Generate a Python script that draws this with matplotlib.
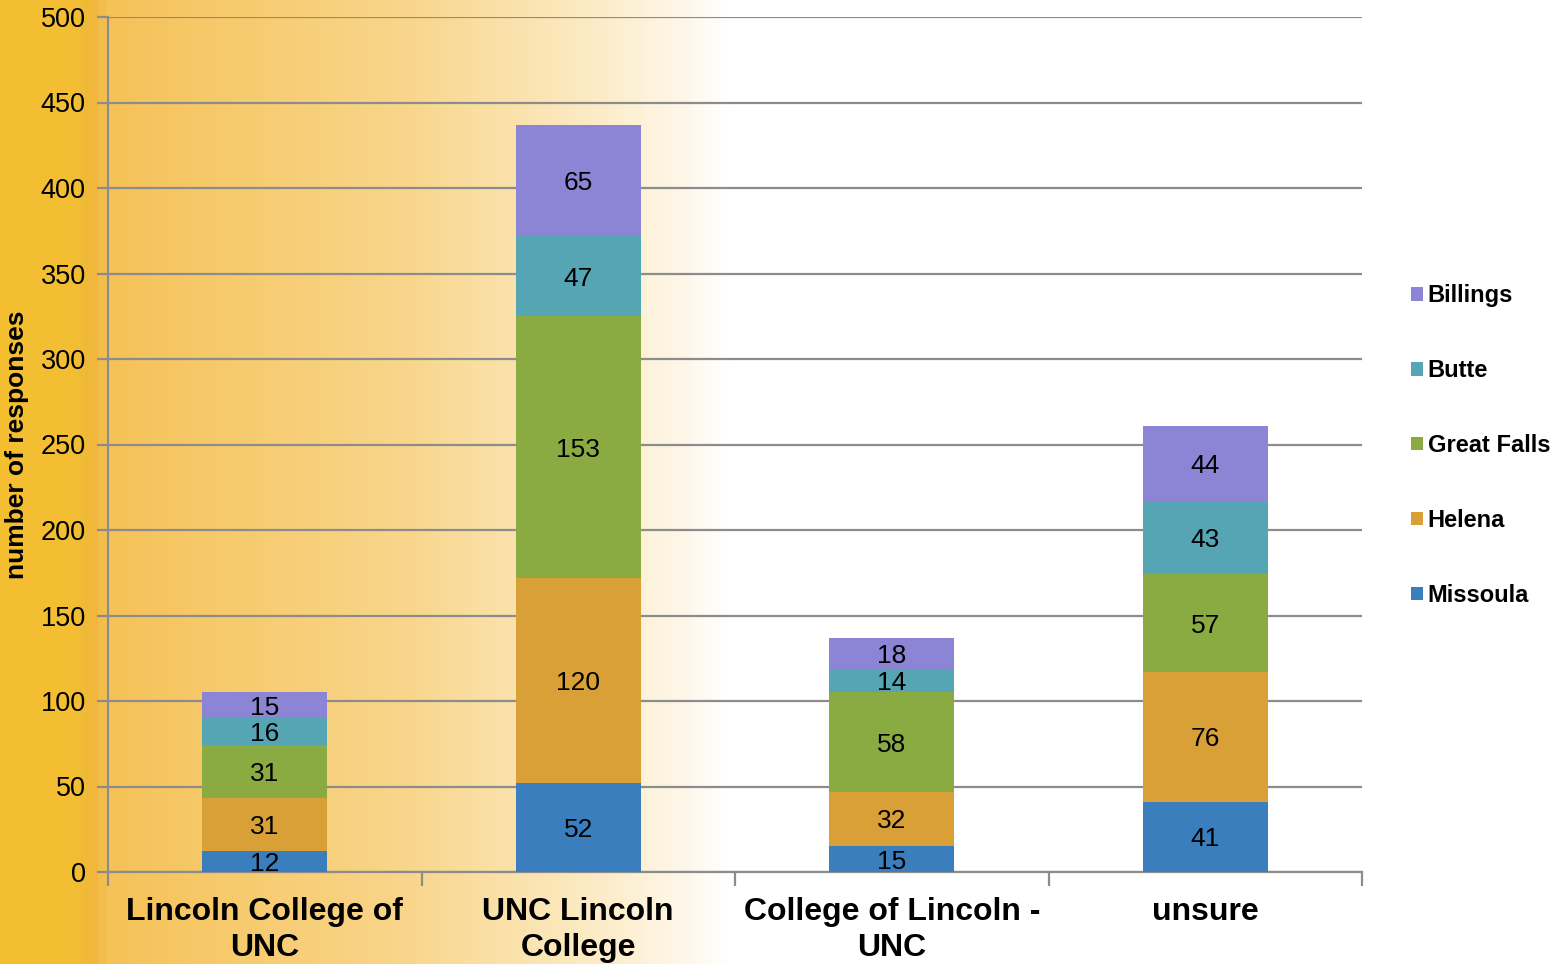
import numpy as np
import matplotlib
matplotlib.use("Agg")
import matplotlib.pyplot as plt
from matplotlib.colors import LinearSegmentedColormap

# ---- data ----
categories = ["Lincoln College of\nUNC", "UNC Lincoln\nCollege", "College of Lincoln -\nUNC", "unsure"]
series = ["Missoula", "Helena", "Great Falls", "Butte", "Billings"]
missoula = [12, 52, 15, 41]
helena = [31, 120, 32, 76]
great_falls = [31, 153, 58, 57]
butte = [16, 47, 14, 43]
billings = [15, 65, 18, 44]
colors = ["#3A7EBD", "#D8A036", "#8AAA42", "#56A5B5", "#8C84D4"]

W, H = 1566, 964
fig = plt.figure(figsize=(W / 100, H / 100), dpi=100)

# background gradient (yellow on the left fading to white)
bg = fig.add_axes([0, 0, 1, 1], zorder=-10)
bg.axis("off")
stops = [(0.0, "#F3BE30"), (0.045, "#F3BF33"), (0.058, "#F0B63A"), (0.066, "#F5C257"),
         (0.26, "#F9D68C"), (0.38, "#FCEBC6"), (0.44, "#FEF8EC"), (0.465, "#FFFFFF"), (1.0, "#FFFFFF")]
cmap = LinearSegmentedColormap.from_list("bgfade", stops)
bg.imshow(np.linspace(0, 1, 800)[None, :], aspect="auto", cmap=cmap, extent=[0, 1, 0, 1])
bg.set_xlim(0, 1); bg.set_ylim(0, 1)

ax = fig.add_axes([108 / W, 1 - 872 / H, (1362 - 108) / W, (872 - 17) / H])
ax.patch.set_alpha(0)

x = np.arange(len(categories))
data = [missoula, helena, great_falls, butte, billings]
bottom = np.zeros(len(categories))
bars = []
for name, vals, c in zip(series, data, colors):
    b = ax.bar(x, vals, width=0.4, bottom=bottom, color=c, label=name, zorder=3)
    bars.append(b)
    for xi, v, bt in zip(x, vals, bottom):
        ax.text(xi, bt + v / 2, str(v), ha="center", va="center_baseline", fontsize=19,
                family="Liberation Sans", zorder=4)
    bottom += np.array(vals)

ax.set_xlim(-0.5, 3.5)
ax.set_ylim(0, 500)
ax.set_yticks(range(0, 501, 50))
ax.yaxis.grid(True, color="#8C8C8C", linewidth=1.6, zorder=1)
ax.set_axisbelow(True)
for s in ["top", "right"]:
    ax.spines[s].set_visible(False)
for s in ["left", "bottom"]:
    ax.spines[s].set_color("#8C8C8C")
    ax.spines[s].set_linewidth(1.6)
ax.tick_params(axis="y", length=8, color="#8C8C8C", width=1.6, labelsize=19.5, pad=8)
ax.set_yticklabels([str(v) for v in range(0, 501, 50)], family="Liberation Sans")

# x axis: ticks at category boundaries, labels centered
ax.set_xticks(np.arange(-0.5, 4, 1.0))
ax.set_xticklabels([])
ax.set_xticks(x, minor=True)
ax.set_xticklabels(categories, minor=True, fontsize=23, fontweight="bold",
                   family="Liberation Sans", linespacing=1.27)
ax.tick_params(axis="x", which="major", length=10, color="#8C8C8C", width=1.6)
ax.tick_params(axis="x", which="minor", length=0, pad=18)

ax.set_ylabel("number of responses", fontsize=19, fontweight="bold", family="Liberation Sans")
ax.yaxis.set_label_coords(-0.063, 0.5)

handles = [bars[i] for i in range(4, -1, -1)]
labels = [series[i] for i in range(4, -1, -1)]
leg = fig.legend(handles, labels, loc="upper left", bbox_to_anchor=(1390 / W, 1 - 263 / H),
                 frameon=False, prop={"family": "Liberation Sans", "weight": "bold", "size": 17},
                 handlelength=0.5, handleheight=0.5, handletextpad=0.2, labelspacing=2.2)

fig.savefig("out.png", dpi=100)
